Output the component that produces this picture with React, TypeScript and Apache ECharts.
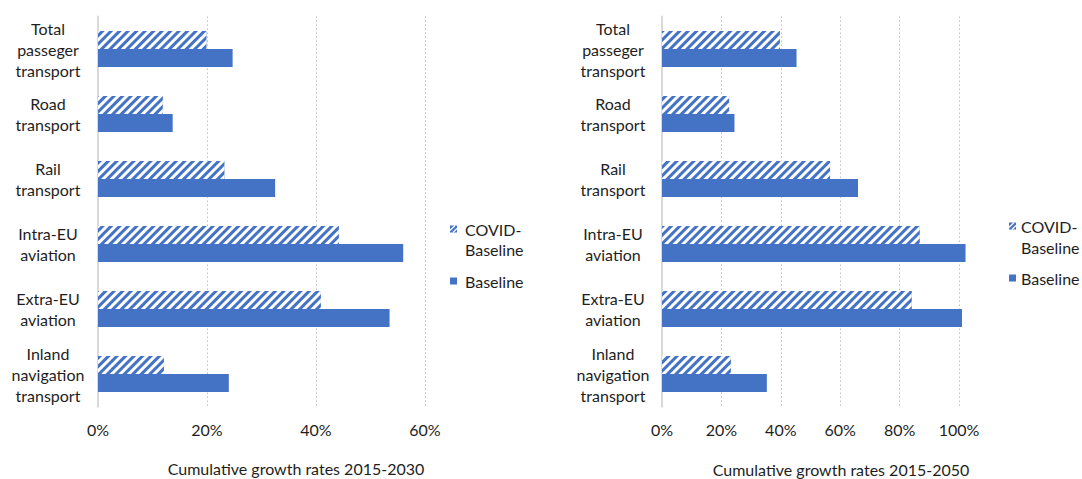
import React, { useEffect, useRef } from "react";
import * as echarts from "echarts";

const categories = [
  "Total\npasseger\ntransport",
  "Road\ntransport",
  "Rail\ntransport",
  "Intra-EU\naviation",
  "Extra-EU\naviation",
  "Inland\nnavigation\ntransport",
];
const covid2030 = [0.199, 0.119, 0.232, 0.442, 0.409, 0.121];
const base2030 = [0.247, 0.137, 0.325, 0.56, 0.535, 0.24];
const covid2050 = [0.397, 0.226, 0.566, 0.868, 0.841, 0.232];
const base2050 = [0.453, 0.244, 0.66, 1.022, 1.01, 0.353];
const seriesNames = ["COVID-Baseline", "Baseline"];
const axisTitles = ["Cumulative growth rates 2015-2030", "Cumulative growth rates 2015-2050"];

const BLUE = "#4472C4";
const FONT = "Lato";
const TXT = "#1e1e1e";
const FS = 16;

const decal = {
  symbol: "rect",
  symbolSize: 1,
  color: "#ffffff",
  dashArrayX: [1, 0],
  dashArrayY: [2.2, 2.2],
  rotation: -Math.PI / 4,
};

function xAxisCfg(gridIndex: number, max: number) {
  return {
    gridIndex,
    type: "value",
    min: 0,
    max,
    interval: 0.2,
    axisLine: { show: false },
    axisTick: { show: false },
    splitLine: { show: true, lineStyle: { type: [1.5, 2.5], color: "#BFBFBF", width: 1 } },
    axisLabel: {
      formatter: (v: number) => Math.round(v * 100) + "%",
      margin: 15,
      fontSize: FS,
      fontFamily: FONT,
      color: TXT,
    },
  };
}

function yAxisCfg(gridIndex: number, margin: number) {
  return {
    gridIndex,
    type: "category",
    data: categories,
    inverse: true,
    axisLine: { show: true, lineStyle: { color: "#D9D9D9", width: 2 } },
    axisTick: { show: false },
    splitLine: { show: false },
    axisLabel: {
      align: "center",
      margin,
      fontSize: FS,
      lineHeight: 21,
      fontFamily: FONT,
      color: TXT,
    },
  };
}

function legendGraphic(x: number, gap: number, y1: number, y2: number, y3: number) {
  const font = `${FS}px ${FONT}`;
  return {
    type: "group",
    children: [
      { type: "rect", shape: { x: x, y: y1 - 3.5, width: 7, height: 7 }, style: { fill: BLUE } },
      { type: "line", shape: { x1: x, y1: y1 + 1.5, x2: x + 5, y2: y1 - 3.5 }, style: { stroke: "#fff", lineWidth: 1.2 } },
      { type: "line", shape: { x1: x + 3, y1: y1 + 3.5, x2: x + 7, y2: y1 - 0.5 }, style: { stroke: "#fff", lineWidth: 1.2 } },
      { type: "text", x: x + gap, y: y1, style: { text: "COVID-", font, fill: TXT, verticalAlign: "middle" } },
      { type: "text", x: x + gap, y: y2, style: { text: "Baseline", font, fill: TXT, verticalAlign: "middle" } },
      { type: "rect", shape: { x: x, y: y3 - 3.5, width: 7, height: 7 }, style: { fill: BLUE } },
      { type: "text", x: x + gap, y: y3, style: { text: "Baseline", font, fill: TXT, verticalAlign: "middle" } },
    ],
  };
}

function barSeries(name: string, idx: number, data: number[], hatched: boolean) {
  return {
    name,
    type: "bar",
    xAxisIndex: idx,
    yAxisIndex: idx,
    data,
    barWidth: 18,
    barGap: "0%",
    clip: false,
    itemStyle: hatched ? { color: BLUE, decal } : { color: BLUE },
  };
}

export default function App() {
  const ref = useRef<HTMLDivElement>(null);
  useEffect(() => {
    if (!ref.current) return;
    const chart = echarts.init(ref.current, undefined, { renderer: "svg" });
    chart.setOption({
      animation: false,
      aria: { enabled: false },
      textStyle: { fontFamily: FONT },
      grid: [
        { left: 98, top: 16.5, width: 327, height: 390 },
        { left: 662, top: 16.5, width: 297, height: 390 },
      ],
      xAxis: [xAxisCfg(0, 0.6), xAxisCfg(1, 1.0)],
      yAxis: [yAxisCfg(0, 50), yAxisCfg(1, 49)],
      series: [
        barSeries(seriesNames[0], 0, covid2030, true),
        barSeries(seriesNames[1], 0, base2030, false),
        barSeries(seriesNames[0], 1, covid2050, true),
        barSeries(seriesNames[1], 1, base2050, false),
      ],
      graphic: [
        legendGraphic(450, 15, 229, 249, 281),
        legendGraphic(1009, 12, 226, 247, 278),
        {
          type: "text",
          x: 296,
          y: 468,
          style: { text: axisTitles[0], font: `${FS}px ${FONT}`, fill: TXT, align: "center", verticalAlign: "middle" },
        },
        {
          type: "text",
          x: 841,
          y: 469,
          style: { text: axisTitles[1], font: `${FS}px ${FONT}`, fill: TXT, align: "center", verticalAlign: "middle" },
        },
      ],
    });
    return () => chart.dispose();
  }, []);
  return (
    <div
      ref={ref}
      style={{ position: "fixed", left: 0, top: 0, width: 1082, height: 479, background: "#fff" }}
    />
  );
}
